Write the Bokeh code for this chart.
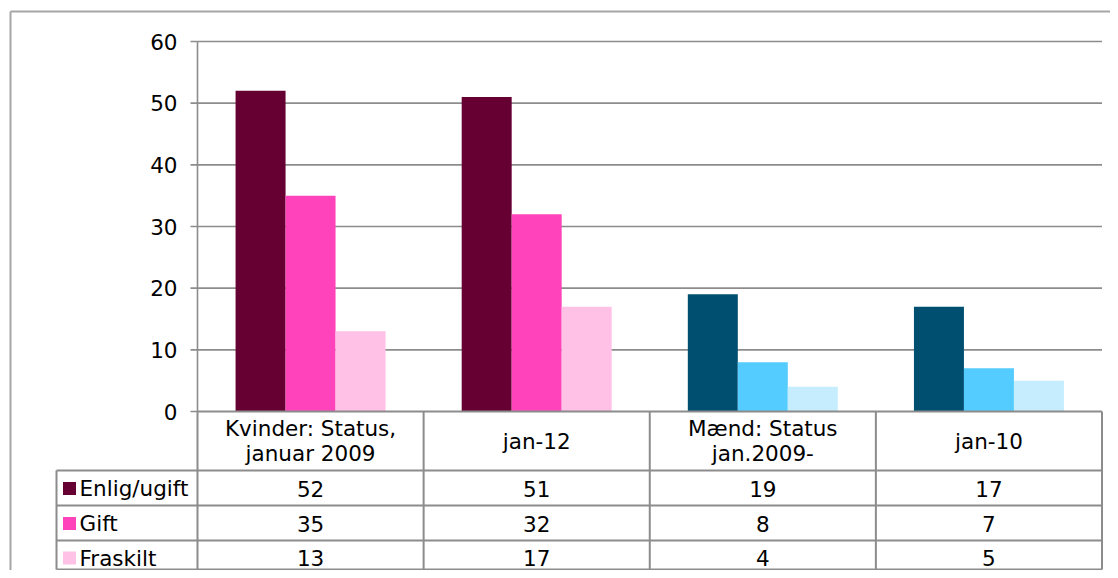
from bokeh.plotting import figure
from bokeh.models import Range1d
from bokeh.core.properties import value
from bokeh.embed import file_html
from bokeh.resources import INLINE

# ---- data ----
categories = ["Kvinder: Status,\njanuar 2009", "jan-12", "Mænd: Status\njan.2009-", "jan-10"]
series = ["Enlig/ugift", "Gift", "Fraskilt"]
enlig = [52, 51, 19, 17]
gift = [35, 32, 8, 7]
fraskilt = [13, 17, 4, 5]
values_by_series = [enlig, gift, fraskilt]
women_colors = ["#660033", "#FF44BB", "#FFC1E5"]
men_colors = ["#004F70", "#55CCFF", "#C6EDFD"]
group_is_men = [False, False, True, True]
y_ticks = [0, 10, 20, 30, 40, 50, 60]

# ---- layout helpers (page pixels -> data) ----
PL, PR, PT, PB = 197.0, 1101.5, 41.0, 411.0
G = (PR - PL) / 4.0
U = (PB - PT) / 60.0
W, H = 1110, 570


def X(px):
    return (px - PL) / G - 0.5


def Y(py):
    return (PB - py) / U


FONT = value("DejaVu Sans")
FS = "21.5px"
GRID = "#8c8c8c"

p = figure(width=W, height=H,
           x_range=Range1d(X(0), X(W)), y_range=Range1d(Y(H), Y(0)),
           output_backend="svg", toolbar_location=None, min_border=0,
           x_axis_type=None, y_axis_type=None, outline_line_color=None)
p.background_fill_color = "white"
p.border_fill_color = "white"

# outer border
p.segment(x0=[X(10), X(10)], y0=[Y(11), Y(11)], x1=[X(10), X(1120)], y1=[Y(580), Y(11)],
          line_color="#a6a6a6", line_width=2)

# gridlines
gx0 = [X(PL)] * (len(y_ticks) - 1)
gx1 = [X(PR)] * (len(y_ticks) - 1)
p.segment(x0=gx0, y0=y_ticks[1:], x1=gx1, y1=y_ticks[1:], line_color=GRID, line_width=1.6)

# y axis line + ticks
p.segment(x0=[X(PL)], y0=[0], x1=[X(PL)], y1=[60], line_color=GRID, line_width=1.6)
p.segment(x0=[X(190)] * len(y_ticks), y0=y_ticks, x1=[X(PL)] * len(y_ticks), y1=y_ticks,
          line_color=GRID, line_width=1.6)
p.text(x=[X(177)] * len(y_ticks), y=y_ticks, text=[str(t) for t in y_ticks],
       text_font=FONT, text_font_size=FS, text_align="right", text_baseline="middle",
       text_color="black")

# bars
bw = 50.0 / G
for si, vals in enumerate(values_by_series):
    xs = [i + (si - 1) * bw for i in range(len(categories))]
    cols = [men_colors[si] if group_is_men[i] else women_colors[si] for i in range(len(categories))]
    p.vbar(x=xs, top=vals, bottom=0, width=bw, fill_color=cols, line_color=None)

# table lines
row_lines = [470, 505, 540, 569]
TL = 56
p.segment(x0=[X(PL)], y0=[0], x1=[X(PR)], y1=[0], line_color=GRID, line_width=2)
p.segment(x0=[X(TL)] * len(row_lines), y0=[Y(r) for r in row_lines],
          x1=[X(PR)] * len(row_lines), y1=[Y(r) for r in row_lines],
          line_color=GRID, line_width=2)
col_edges = [i - 0.5 for i in range(len(categories) + 1)]
p.segment(x0=col_edges, y0=[0] * len(col_edges), x1=col_edges, y1=[Y(569)] * len(col_edges),
          line_color=GRID, line_width=2)
p.segment(x0=[X(TL)], y0=[Y(470)], x1=[X(TL)], y1=[Y(569)], line_color=GRID, line_width=2)

# category header labels
hc = (411 + 470) / 2.0
hx, hy, ht = [], [], []
for i, c in enumerate(categories):
    lines = c.split("\n")
    n = len(lines)
    for li, ln in enumerate(lines):
        hx.append(i)
        hy.append(Y(hc + (li - (n - 1) / 2.0) * 25.5))
        ht.append(ln)
p.text(x=hx, y=hy, text=ht, text_font=FONT, text_font_size=FS, text_align="center",
       text_baseline="middle", text_color="black")

# table rows
row_centers = [487.5, 522.5, 557.0]
for si, vals in enumerate(values_by_series):
    yc = Y(row_centers[si] + 0.5)
    p.text(x=list(range(len(categories))), y=[yc] * len(categories), text=[str(v) for v in vals],
           text_font=FONT, text_font_size=FS, text_align="center", text_baseline="middle",
           text_color="black")
    p.scatter(x=[X(69)], y=[yc], marker="square", size=13, fill_color=women_colors[si],
              line_color=None)
    p.text(x=[X(79)], y=[yc], text=[series[si]], text_font=FONT, text_font_size=FS,
           text_align="left", text_baseline="middle", text_color="black")

open("out.html", "w").write(file_html(p, INLINE))
